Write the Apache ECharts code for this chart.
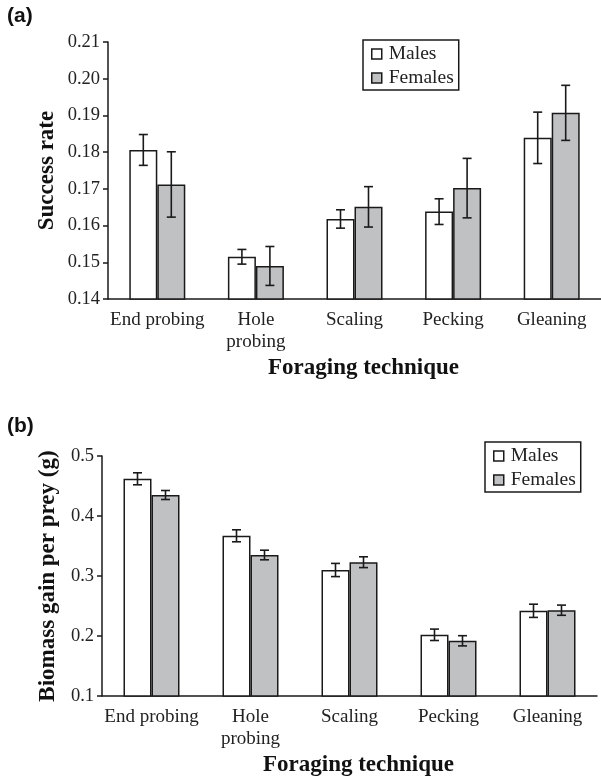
<!DOCTYPE html>
<html>
<head>
<meta charset="utf-8">
<script src="https://cdn.jsdelivr.net/npm/echarts@6/dist/echarts.min.js"></script>
<style>
  html, body { margin: 0; padding: 0; background: #fff; }
  #chart { width: 601px; height: 778px; }
</style>
</head>
<body>
<div id="chart"></div>
<script>
// categories (x axis)
const categories = ["End probing", "Hole\nprobing", "Scaling", "Pecking", "Gleaning"];

// panel (a) success rate
const maleRate = [0.1806, 0.1515, 0.1618, 0.1638, 0.1839];
const maleRateErr = [0.0042, 0.0020, 0.0025, 0.0035, 0.0070];
const femaleRate = [0.1712, 0.1490, 0.1651, 0.1702, 0.1907];
const femaleRateErr = [0.0089, 0.0053, 0.0055, 0.0081, 0.0075];

// panel (b) biomass gain per prey (g)
const maleBiomass = [0.462, 0.367, 0.310, 0.202, 0.242];
const maleBiomassErr = [0.010, 0.010, 0.011, 0.0095, 0.011];
const femaleBiomass = [0.435, 0.335, 0.323, 0.192, 0.243];
const femaleBiomassErr = [0.0075, 0.008, 0.009, 0.0085, 0.0085];

const BAR_W = 28;
const SERIF = "Liberation Serif";

const chart = echarts.init(document.getElementById("chart"));

// error bar series drawn with custom renderItem
function errorSeries(name, means, errs, idx, side) {
  return {
    name: name,
    type: "custom",
    xAxisIndex: idx,
    yAxisIndex: idx,
    z: 10,
    silent: true,
    encode: { x: 0, y: 1 },
    data: means.map((m, i) => [i, m, errs[i]]),
    renderItem(params, api) {
      const i = api.value(0);
      const m = api.value(1);
      const e = api.value(2);
      const top = api.coord([i, m + e]);
      const bot = api.coord([i, m - e]);
      const x = top[0] + side * BAR_W / 2;
      const cap = 4.5;
      const style = { stroke: "#1a1a1a", lineWidth: 1.6, fill: null };
      return {
        type: "group",
        children: [
          { type: "line", shape: { x1: x, y1: top[1], x2: x, y2: bot[1] }, style },
          { type: "line", shape: { x1: x - cap, y1: top[1], x2: x + cap, y2: top[1] }, style },
          { type: "line", shape: { x1: x - cap, y1: bot[1], x2: x + cap, y2: bot[1] }, style },
        ],
      };
    },
  };
}

function barSeries(name, values, idx, color) {
  return {
    name: name,
    type: "bar",
    xAxisIndex: idx,
    yAxisIndex: idx,
    barWidth: BAR_W,
    barGap: "0%",
    data: values,
    itemStyle: { color: color, borderColor: "#1a1a1a", borderWidth: 1.5 },
  };
}

function xAxisCfg(idx) {
  return {
    type: "category",
    gridIndex: idx,
    data: categories,
    axisLine: { lineStyle: { color: "#1a1a1a", width: 1.5 } },
    axisTick: { show: false },
    axisLabel: { interval: 0, color: "#222", fontFamily: SERIF, fontSize: 19, margin: 10, lineHeight: 22 },
    name: "Foraging technique",
    nameLocation: "middle",
    nameGap: 58,
    nameTextStyle: {
      color: "#111", fontFamily: SERIF, fontSize: 23, fontWeight: "bold",
      padding: [0, 0, 0, 18],
    },
  };
}

function yAxisCfg(idx, min, max, interval, digits, name, gap) {
  return {
    type: "value",
    gridIndex: idx,
    min: min,
    max: max,
    interval: interval,
    axisLine: { show: true, lineStyle: { color: "#1a1a1a", width: 1.5 } },
    axisTick: { show: true, length: 5, lineStyle: { color: "#1a1a1a", width: 1.5 } },
    splitLine: { show: false },
    axisLabel: {
      color: "#222", fontFamily: SERIF, fontSize: 18.5, margin: 8,
      formatter: (v) => v.toFixed(digits),
    },
    name: name,
    nameLocation: "middle",
    nameRotate: 90,
    nameGap: gap,
    nameMoveOverlap: false,
    nameTextStyle: { color: "#111", fontFamily: SERIF, fontSize: 23, fontWeight: "bold" },
  };
}

function legendCfg(left, top) {
  return {
    orient: "vertical",
    left: left,
    top: top,
    data: ["Males", "Females"],
    icon: "rect",
    itemWidth: 10,
    itemHeight: 10,
    itemGap: 4,
    padding: [4, 5, 2, 8],
    borderColor: "#1a1a1a",
    borderWidth: 1.5,
    selectedMode: false,
    itemStyle: { borderColor: "#1a1a1a", borderWidth: 1.5 },
    textStyle: { color: "#222", fontFamily: SERIF, fontSize: 19.5, padding: [0, 0, 0, 2] },
  };
}

const option = {
  backgroundColor: "#fff",
  animation: false,
  textStyle: { fontFamily: SERIF },
  grid: [
    { left: 108, top: 42, width: 495, height: 257 },
    { left: 102, top: 456, width: 495, height: 240 },
  ],
  legend: [legendCfg(363, 40), legendCfg(485, 442)],
  xAxis: [xAxisCfg(0), xAxisCfg(1)],
  yAxis: [
    yAxisCfg(0, 0.14, 0.21, 0.01, 2, "Success rate", 49),
    yAxisCfg(1, 0.1, 0.5, 0.1, 1, "Biomass gain per prey (g)", 42),
  ],
  graphic: [
    { type: "text", left: 7, top: 6, style: { text: "(a)", font: "bold 21px 'Liberation Sans'", fill: "#111" } },
    { type: "text", left: 7, top: 416, style: { text: "(b)", font: "bold 21px 'Liberation Sans'", fill: "#111" } },
  ],
  series: [
    barSeries("Males", maleRate, 0, "#ffffff"),
    barSeries("Females", femaleRate, 0, "#c0c1c3"),
    errorSeries("Males", maleRate, maleRateErr, 0, -1),
    errorSeries("Females", femaleRate, femaleRateErr, 0, 1),
    barSeries("Males", maleBiomass, 1, "#ffffff"),
    barSeries("Females", femaleBiomass, 1, "#c0c1c3"),
    errorSeries("Males", maleBiomass, maleBiomassErr, 1, -1),
    errorSeries("Females", femaleBiomass, femaleBiomassErr, 1, 1),
  ],
};

chart.setOption(option);
</script>
</body>
</html>
